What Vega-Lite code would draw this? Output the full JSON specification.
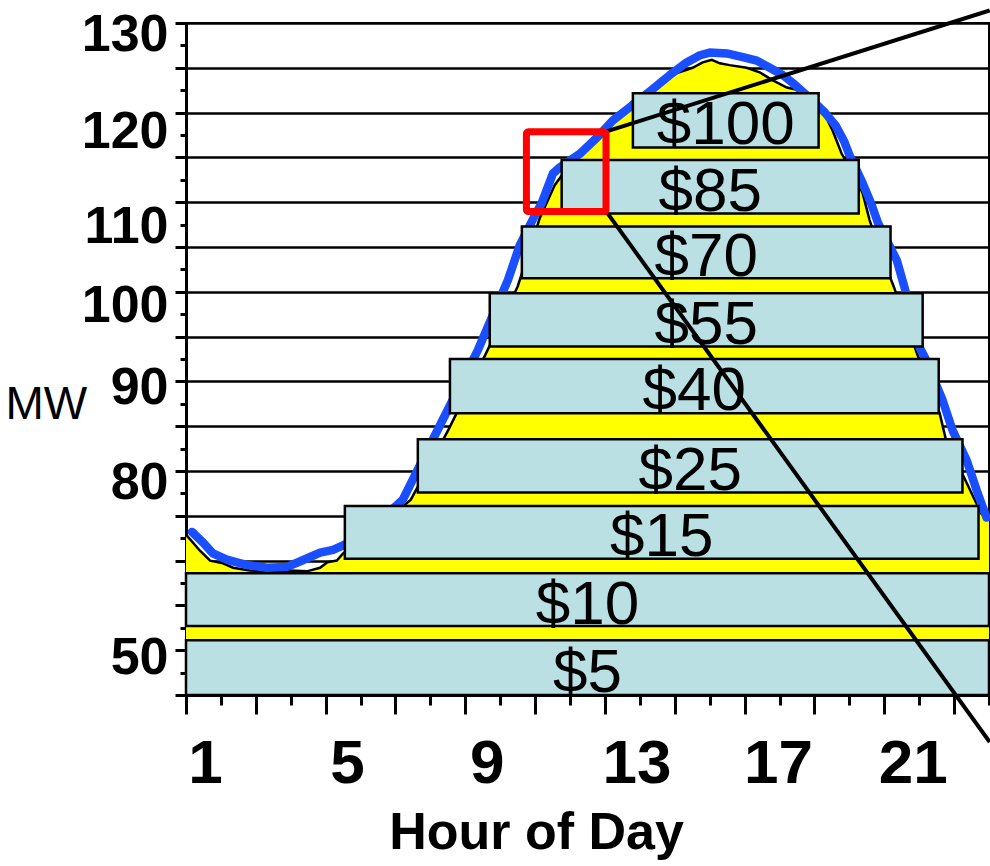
{
  "$schema": "https://vega.github.io/schema/vega-lite/v6.json",
  "width": 803,
  "height": 672,
  "autosize": {"type": "none"},
  "padding": {"left": 186, "top": 23, "right": 1, "bottom": 171},
  "background": "white",
  "config": {
    "view": {"stroke": "black", "strokeWidth": 2},
    "axis": {
      "domainColor": "black",
      "domainWidth": 3,
      "tickColor": "black",
      "tickWidth": 3,
      "gridColor": "black",
      "gridWidth": 2.5,
      "labelColor": "black",
      "titleColor": "black",
      "labelFont": "Liberation Sans",
      "titleFont": "Liberation Sans"
    }
  },
  "datasets": {
    "load": [
      {"hour": 0.5, "mw": 72.9}, {"hour": 0.9, "mw": 71.1}, {"hour": 1.19, "mw": 70.0}, {"hour": 1.56, "mw": 69.7},
      {"hour": 1.85, "mw": 69.2}, {"hour": 2.33, "mw": 68.9}, {"hour": 2.82, "mw": 68.8}, {"hour": 3.48, "mw": 68.9},
      {"hour": 3.96, "mw": 68.8}, {"hour": 4.34, "mw": 69.2}, {"hour": 4.54, "mw": 69.8}, {"hour": 4.82, "mw": 70.0},
      {"hour": 5.0, "mw": 70.8}, {"hour": 6.05, "mw": 73.9}, {"hour": 6.94, "mw": 76.8}, {"hour": 8.03, "mw": 84.7},
      {"hour": 9.09, "mw": 93.1}, {"hour": 10.0, "mw": 100.6}, {"hour": 10.63, "mw": 108.2}, {"hour": 11.06, "mw": 111.9},
      {"hour": 11.64, "mw": 115.0}, {"hour": 12.35, "mw": 118.0}, {"hour": 12.92, "mw": 119.9}, {"hour": 13.41, "mw": 121.7},
      {"hour": 14.07, "mw": 123.3}, {"hour": 14.56, "mw": 124.4}, {"hour": 15.01, "mw": 125.0}, {"hour": 15.3, "mw": 125.6},
      {"hour": 15.56, "mw": 125.9}, {"hour": 15.79, "mw": 125.5}, {"hour": 16.07, "mw": 125.3}, {"hour": 16.56, "mw": 125.0},
      {"hour": 16.93, "mw": 124.5}, {"hour": 17.31, "mw": 123.6}, {"hour": 17.71, "mw": 122.8}, {"hour": 18.08, "mw": 122.5},
      {"hour": 18.5, "mw": 121.4}, {"hour": 18.74, "mw": 120.2}, {"hour": 19.02, "mw": 118.0}, {"hour": 19.28, "mw": 115.4},
      {"hour": 19.65, "mw": 113.0}, {"hour": 19.88, "mw": 111.0}, {"hour": 20.08, "mw": 108.0}, {"hour": 20.37, "mw": 104.6},
      {"hour": 20.77, "mw": 100.6}, {"hour": 21.43, "mw": 93.2}, {"hour": 22.09, "mw": 86.4}, {"hour": 22.26, "mw": 83.6},
      {"hour": 23.09, "mw": 76.8}, {"hour": 23.29, "mw": 75.2}, {"hour": 23.5, "mw": 74.7}
    ],
    "blue": [
      {"hour": 0.67, "mw": 73.2}, {"hour": 0.99, "mw": 72.0}, {"hour": 1.27, "mw": 70.8}, {"hour": 1.67, "mw": 70.1},
      {"hour": 2.25, "mw": 69.5}, {"hour": 2.82, "mw": 69.2}, {"hour": 3.39, "mw": 69.3}, {"hour": 3.76, "mw": 69.9},
      {"hour": 4.34, "mw": 70.9}, {"hour": 4.71, "mw": 71.2}, {"hour": 5.0, "mw": 71.7}, {"hour": 5.77, "mw": 73.4},
      {"hour": 6.71, "mw": 76.8}, {"hour": 7.8, "mw": 85.3}, {"hour": 8.86, "mw": 93.5}, {"hour": 9.72, "mw": 101.3},
      {"hour": 10.06, "mw": 105.2}, {"hour": 10.49, "mw": 108.5}, {"hour": 10.69, "mw": 109.9}, {"hour": 11.01, "mw": 113.2},
      {"hour": 11.21, "mw": 113.9}, {"hour": 11.78, "mw": 115.4}, {"hour": 12.27, "mw": 117.2}, {"hour": 12.72, "mw": 119.1},
      {"hour": 13.21, "mw": 120.6}, {"hour": 13.7, "mw": 122.1}, {"hour": 14.36, "mw": 124.2}, {"hour": 14.84, "mw": 125.6},
      {"hour": 15.22, "mw": 126.4}, {"hour": 15.5, "mw": 126.7}, {"hour": 15.99, "mw": 126.6}, {"hour": 16.45, "mw": 126.2},
      {"hour": 16.85, "mw": 125.8}, {"hour": 17.22, "mw": 125.0}, {"hour": 17.59, "mw": 124.2}, {"hour": 17.88, "mw": 123.3},
      {"hour": 18.17, "mw": 122.3}, {"hour": 18.51, "mw": 121.1}, {"hour": 18.8, "mw": 120.0}, {"hour": 19.1, "mw": 118.6},
      {"hour": 19.35, "mw": 116.8}, {"hour": 19.5, "mw": 115.3}, {"hour": 19.85, "mw": 112.4}, {"hour": 20.12, "mw": 109.9},
      {"hour": 20.32, "mw": 107.7}, {"hour": 20.86, "mw": 103.5}, {"hour": 21.08, "mw": 100.5}, {"hour": 21.51, "mw": 93.8},
      {"hour": 21.66, "mw": 92.7}, {"hour": 22.17, "mw": 87.9}, {"hour": 22.46, "mw": 84.5}, {"hour": 22.86, "mw": 81.2},
      {"hour": 23.15, "mw": 77.8}, {"hour": 23.43, "mw": 74.8}
    ],
    "blocks": [
      {"price": "$5", "start": 0.5, "end": 23.5, "low": 55.0, "high": 61.1},
      {"price": "$10", "start": 0.5, "end": 23.5, "low": 62.7, "high": 68.6},
      {"price": "$15", "start": 5.05, "end": 23.2, "low": 70.2, "high": 76.1},
      {"price": "$25", "start": 7.14, "end": 22.74, "low": 77.6, "high": 83.55},
      {"price": "$40", "start": 8.06, "end": 22.06, "low": 86.45, "high": 92.5},
      {"price": "$55", "start": 9.2, "end": 21.6, "low": 93.9, "high": 99.85},
      {"price": "$70", "start": 10.12, "end": 20.68, "low": 101.5, "high": 107.3},
      {"price": "$85", "start": 11.26, "end": 19.77, "low": 108.75, "high": 114.7},
      {"price": "$100", "start": 13.3, "end": 18.62, "low": 116.1, "high": 122.15}
    ],
    "zoombox": [
      {"start": 10.25, "end": 12.53, "low": 108.95, "high": 117.85}
    ],
    "callouts": [
      {"h1": 12.55, "m1": 117.9, "h2": 23.52, "m2": 131.4},
      {"h1": 12.55, "m1": 108.9, "h2": 23.52, "m2": 49.75}
    ]
  },
  "encoding": {
    "x": {
      "type": "quantitative",
      "scale": {"domain": [0.5, 23.5], "nice": false, "zero": false},
      "axis": {
        "values": [0.5, 1, 1.5, 2.5, 3.5, 4.5, 5, 5.5, 6.5, 7.5, 8.5, 9, 9.5, 10.5, 11.5, 12.5, 13, 13.5, 14.5, 15.5, 16.5, 17, 17.5, 18.5, 19.5, 20.5, 21, 21.5, 22.5, 23.5],
        "grid": false,
        "tickSize": {"condition": {"test": "datum.value % 2 == 1.5", "value": 10}, "value": 19},
        "tickOpacity": {"condition": {"test": "datum.value % 1 == 0", "value": 0}, "value": 1},
        "labelExpr": "indexof([1,5,9,13,17,21], datum.value) >= 0 ? datum.label : ''",
        "labelFontSize": 62,
        "labelFontWeight": "bold",
        "labelBaseline": "alphabetic",
        "labelPadding": 68,
        "labelOffset": {"expr": "datum.value == 13 ? 14 : datum.value == 17 ? 16 : datum.value == 21 ? 11 : datum.value == 1 ? 1.5 : 4"},
        "labelOverlap": false,
        "labelFlush": false,
        "labelBound": false,
        "title": "Hour of Day",
        "titleFontSize": 52,
        "titleFontWeight": "bold",
        "titleX": 350,
        "titleY": 153,
        "titleAlign": "center",
        "titleBaseline": "alphabetic"
      }
    },
    "y": {
      "type": "quantitative",
      "scale": {"domain": [55, 130], "nice": false, "zero": false},
      "axis": {
        "values": [55, 57.5, 60, 62.5, 65, 67.5, 70, 72.5, 75, 77.5, 80, 82.5, 85, 87.5, 90, 92.5, 95, 97.5, 100, 102.5, 105, 107.5, 110, 112.5, 115, 117.5, 120, 122.5, 125, 127.5, 130],
        "grid": true,
        "gridOpacity": {"condition": {"test": "datum.value % 5 == 0", "value": 1}, "value": 0},
        "tickSize": {"condition": {"test": "datum.value % 5 == 0", "value": 11}, "value": 6},
        "labelExpr": "datum.value == 60 ? '50' : (datum.value >= 80 && datum.value % 10 == 0 ? datum.label : '')",
        "labelFontSize": 52,
        "labelFontWeight": "bold",
        "labelBaseline": "alphabetic",
        "labelPadding": 7,
        "labelOffset": {"expr": "datum.value == 120 ? 35 : datum.value == 110 ? 40 : datum.value == 100 ? 30 : datum.value == 90 ? 22 : datum.value == 60 ? 23 : 27"},
        "labelOverlap": false,
        "labelFlush": false,
        "labelBound": false,
        "title": "MW",
        "titleAngle": 0,
        "titleFont": "Liberation Sans",
        "titleFontSize": 46,
        "titleFontWeight": "normal",
        "titleX": -181,
        "titleY": 395,
        "titleAlign": "left",
        "titleBaseline": "alphabetic"
      }
    }
  },
  "layer": [
    {
      "data": {"name": "load"},
      "mark": {"type": "area", "color": "#ffff00", "opacity": 1, "fillOpacity": 1, "line": {"color": "black", "strokeWidth": 2.5}, "clip": false},
      "encoding": {
        "x": {"field": "hour"},
        "y": {"field": "mw"},
        "y2": {"datum": 55}
      }
    },
    {
      "data": {"name": "blue"},
      "mark": {"type": "line", "color": "#1a4fff", "strokeWidth": 8.5, "strokeCap": "round", "strokeJoin": "round", "clip": false},
      "encoding": {
        "x": {"field": "hour"},
        "y": {"field": "mw"}
      }
    },
    {
      "data": {"name": "blocks"},
      "mark": {"type": "rect", "fill": "#bae0e4", "stroke": "black", "strokeWidth": 2.5, "opacity": 1},
      "encoding": {
        "x": {"field": "start"},
        "x2": {"field": "end"},
        "y": {"field": "low"},
        "y2": {"field": "high"}
      }
    },
    {
      "data": {"name": "blocks"},
      "transform": [
        {"calculate": "(datum.start + datum.end) / 2", "as": "midHour"},
        {"calculate": "(datum.low + datum.high) / 2", "as": "midMW"}
      ],
      "mark": {"type": "text", "font": "Liberation Sans", "fontSize": 62, "color": "black", "align": "center", "baseline": "alphabetic", "dy": 24},
      "encoding": {
        "x": {"field": "midHour"},
        "y": {"field": "midMW"},
        "text": {"field": "price"}
      }
    },
    {
      "data": {"name": "callouts"},
      "mark": {"type": "rule", "color": "black", "strokeWidth": 4, "clip": false},
      "encoding": {
        "x": {"field": "h1"},
        "y": {"field": "m1"},
        "x2": {"field": "h2"},
        "y2": {"field": "m2"}
      }
    },
    {
      "data": {"name": "zoombox"},
      "mark": {"type": "rect", "fillOpacity": 0, "fill": "white", "stroke": "#ff0000", "strokeWidth": 7, "cornerRadius": 2},
      "encoding": {
        "x": {"field": "start"},
        "x2": {"field": "end"},
        "y": {"field": "low"},
        "y2": {"field": "high"}
      }
    }
  ]
}
